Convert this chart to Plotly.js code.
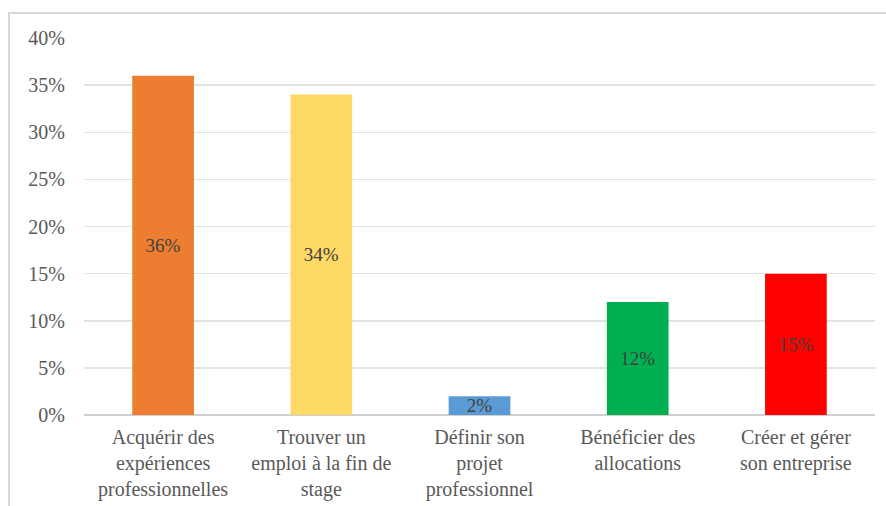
<!DOCTYPE html>
<html><head><meta charset="utf-8">
<script src="https://cdn.plot.ly/plotly-3.0.1.min.js"></script>
<style>
html,body{margin:0;padding:0;background:#fff;}
#frame{position:absolute;left:8px;top:12px;width:880px;height:500px;border:2px solid #d9d9d9;box-sizing:border-box;}
#chart{position:absolute;left:0;top:0;width:886px;height:506px;}
</style></head>
<body>
<div id="frame"></div>
<div id="chart"></div>
<script>
var categories = ["Acquérir des<br>expériences<br>professionnelles","Trouver un<br>emploi à la fin de<br>stage","Définir son<br>projet<br>professionnel","Bénéficier des<br>allocations","Créer et gérer<br>son entreprise"];
var values = [36, 34, 2, 12, 15];
var colors = ["#ED7D31","#FFD966","#5B9BD5","#00B050","#FF0000"];
var labels = values.map(function(v){return v+"%";});
var font = "'Times New Roman', 'Liberation Serif', Times, serif";
var trace = {
  type:"bar", x:categories, y:values, marker:{color:colors},
  text:labels, textposition:"inside", insidetextanchor:"middle", constraintext:"none",
  textfont:{family:font,size:19,color:"#404040"}, hoverinfo:"none", cliponaxis:false
};
var layout = {
  width:886, height:506, margin:{l:84,r:11,t:38,b:91},
  paper_bgcolor:"rgba(0,0,0,0)", plot_bgcolor:"rgba(0,0,0,0)",
  bargap:0.61, showlegend:false,
  font:{family:font,size:20,color:"#595959"},
  xaxis:{type:"category", showgrid:false, zeroline:false, showline:false,
    ticks:"outside", ticklen:4, tickcolor:"rgba(0,0,0,0)", tickfont:{family:font,size:20,color:"#595959"}},
  yaxis:{range:[0,40], dtick:5, ticksuffix:"%", showgrid:true, gridcolor:"#e3e3e3", gridwidth:1.5,
    zeroline:true, zerolinecolor:"#d0d0d0", zerolinewidth:1.5, showline:false,
    ticks:"outside", ticklen:14, tickcolor:"rgba(0,0,0,0)", tickfont:{family:font,size:20,color:"#595959"}}
};
Plotly.newPlot("chart",[trace],layout,{displayModeBar:false,staticPlot:true});
</script>
</body></html>
